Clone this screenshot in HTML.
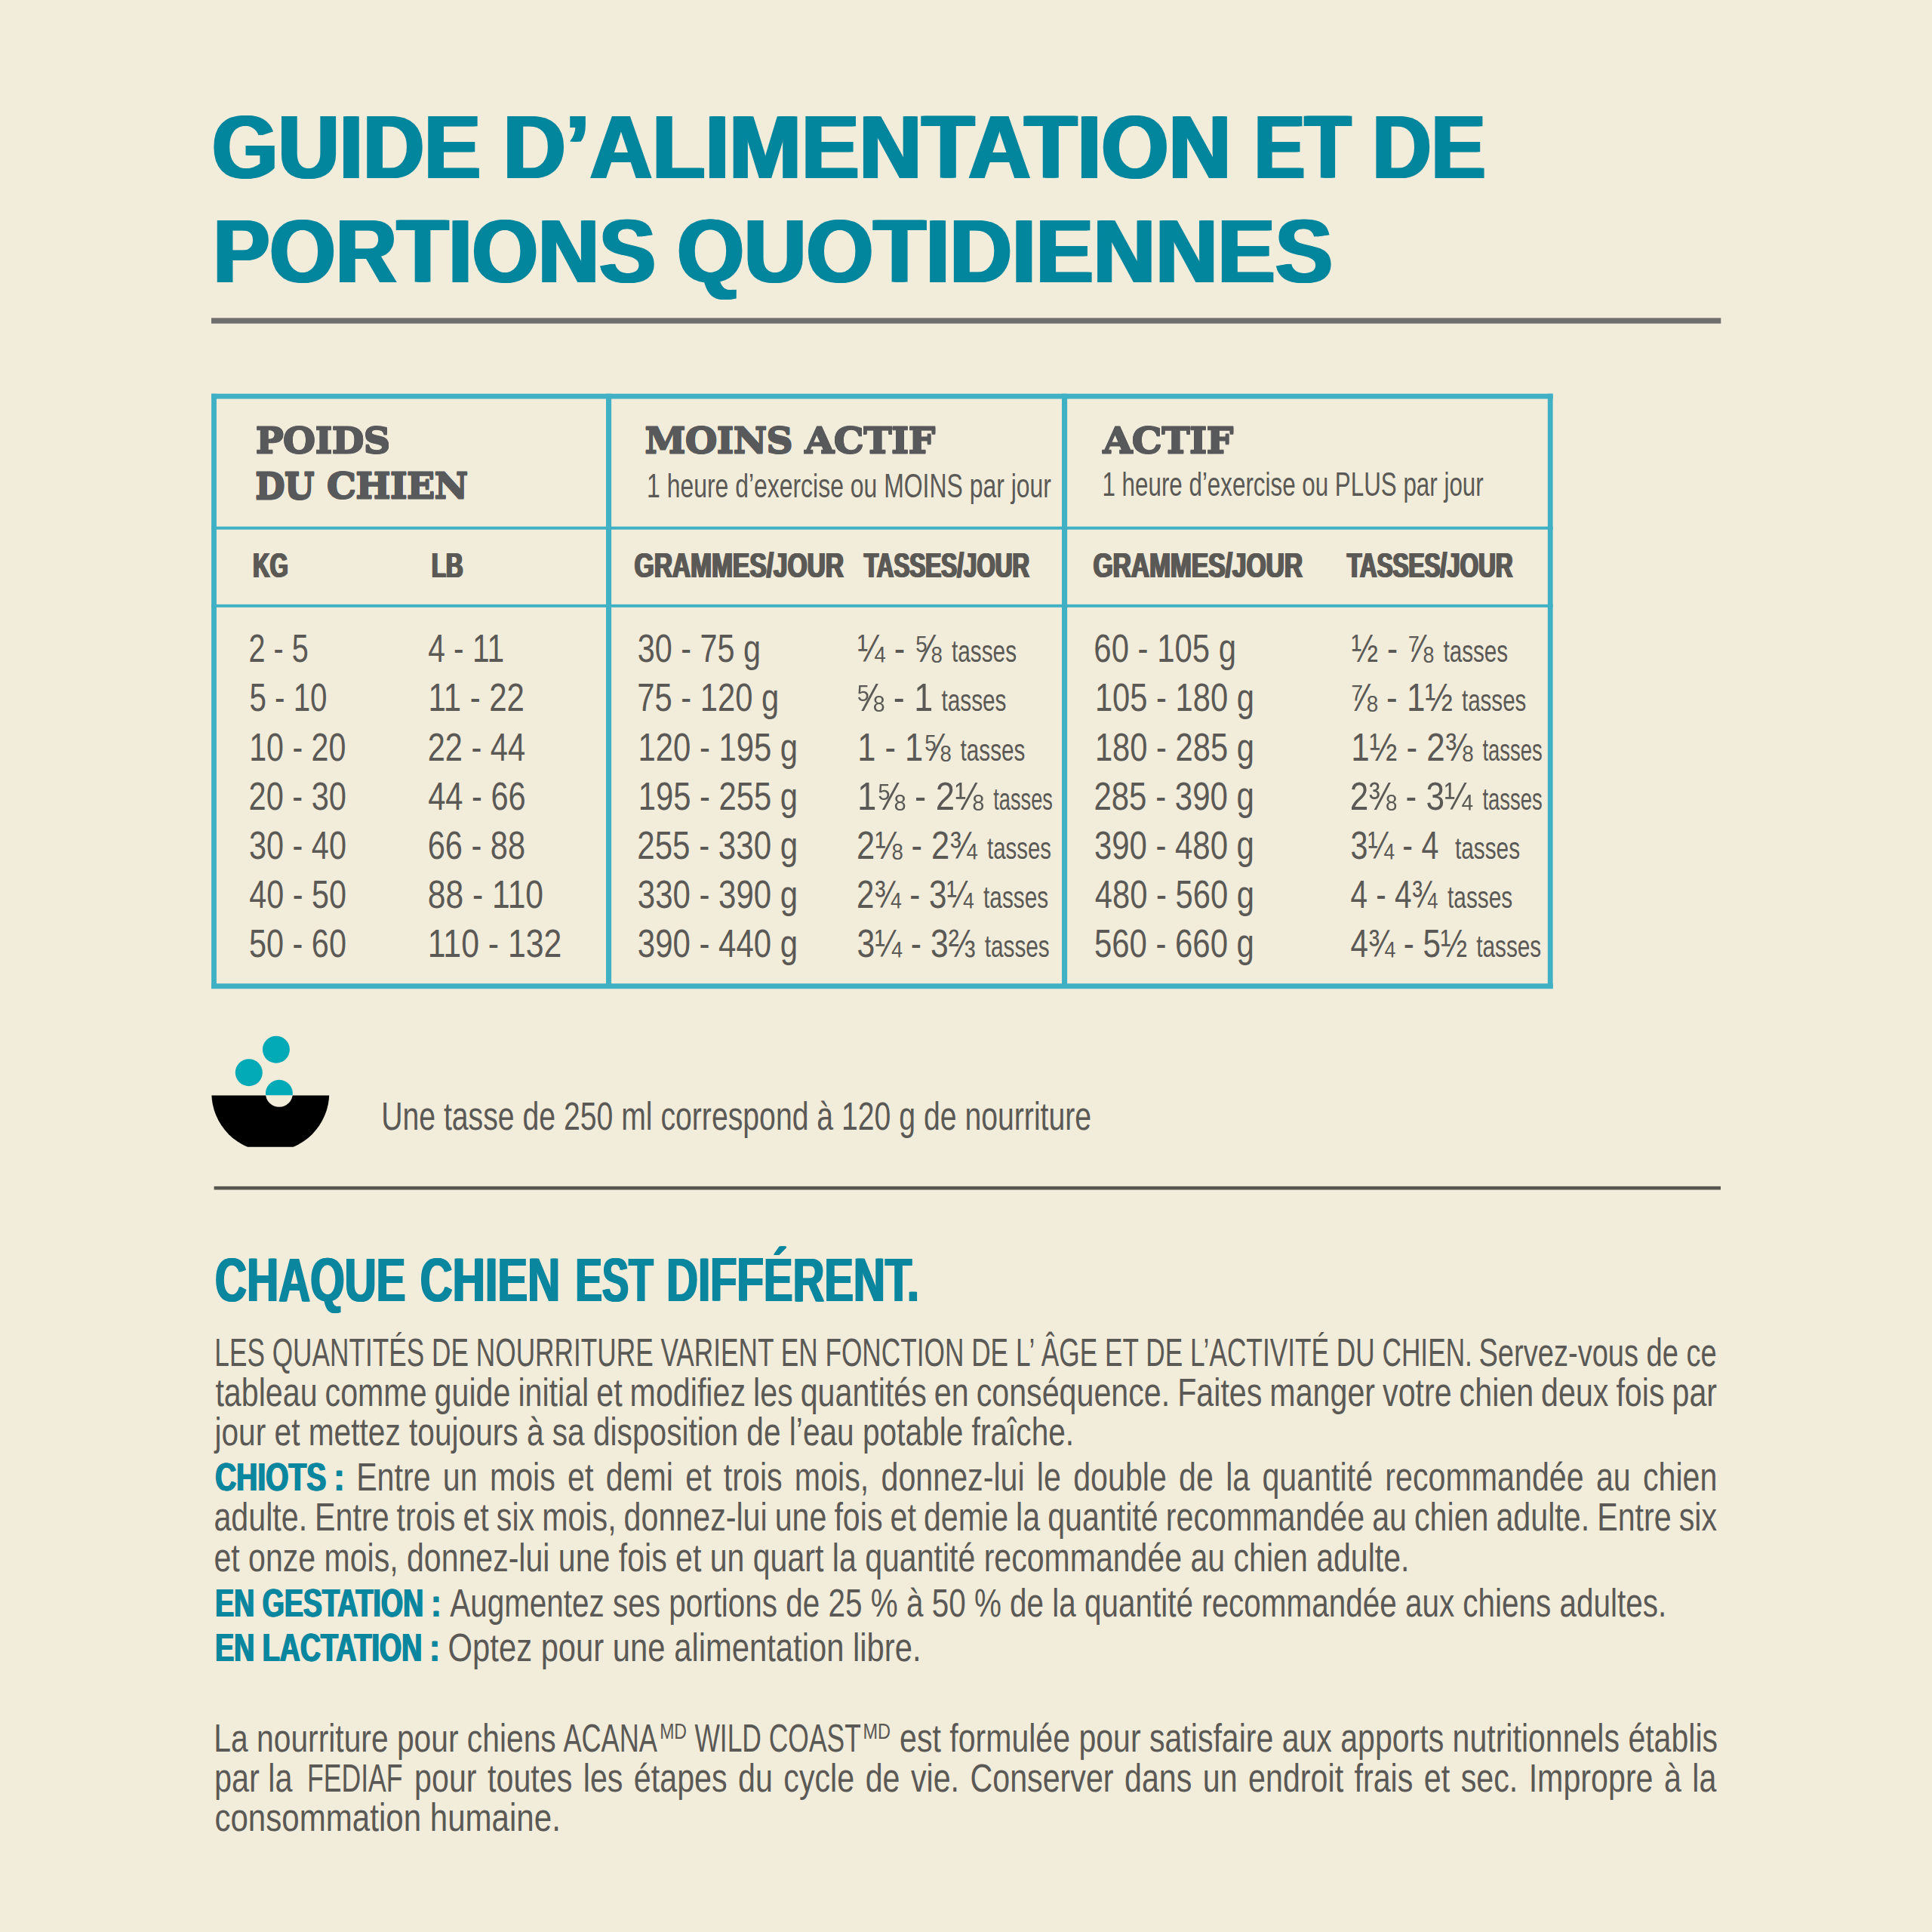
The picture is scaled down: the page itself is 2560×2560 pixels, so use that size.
<!DOCTYPE html>
<html lang="fr">
<head>
<meta charset="utf-8">
<title>Guide d’alimentation et de portions quotidiennes</title>
<style>
html,body{margin:0;padding:0;background:#f2ecdb}
svg{display:block}
text{white-space:pre}
</style>
</head>
<body>
<svg width="2560" height="2560" viewBox="0 0 2560 2560">
<rect width="2560" height="2560" fill="#f2ecdb"/>
<rect x="280" y="421.3" width="2000.3" height="7.4" fill="#706f70"/>
<rect x="283.6" y="1571.9" width="1996.4" height="4.6" fill="#585650"/>
<g fill="#40b0c4">
<rect x="280.1" y="521.7" width="1777.5" height="6.8"/><rect x="280.1" y="1303.2" width="1777.5" height="7.0"/><rect x="280.1" y="521.7" width="6.8" height="788.3"/><rect x="2050.7999999999997" y="521.7" width="6.8" height="788.3"/><rect x="803" y="521.7" width="7.1" height="788.3"/><rect x="1407" y="521.7" width="7.1" height="788.3"/><rect x="280.1" y="697.7" width="1777.5" height="4"/><rect x="280.1" y="800.8" width="1777.5" height="4"/>
</g>
<g>
<clipPath id="bowlclip"><rect x="270" y="1451.4" width="180" height="68.3" rx="2.5"/></clipPath>
<circle cx="358.3" cy="1448" r="78" fill="#000" clip-path="url(#bowlclip)"/>
<circle cx="369.9" cy="1448.8" r="18" fill="#f2ecdb"/>
<path d="M352.06 1451.2 A18 18 0 1 1 387.74 1451.2 Z" fill="#02a9b6"/>
<circle cx="365.9" cy="1390.7" r="18" fill="#02a9b6"/>
<circle cx="329.8" cy="1421.2" r="18" fill="#02a9b6"/>
</g>
<text transform="translate(281.08,235.50) scale(0.9430,1)" font-family="Liberation Sans, sans-serif" font-weight="bold" font-size="119.2" fill="#02869e" style="text-shadow:2.33px 0 0 #02869e,-2.33px 0 0 #02869e">GUIDE</text>
<text transform="translate(666.69,235.50) scale(0.9628,1)" font-family="Liberation Sans, sans-serif" font-weight="bold" font-size="119.2" fill="#02869e" style="text-shadow:2.29px 0 0 #02869e,-2.29px 0 0 #02869e">D’ALIMENTATION</text>
<text transform="translate(1662.10,235.50) scale(0.8403,1)" font-family="Liberation Sans, sans-serif" font-weight="bold" font-size="119.2" fill="#02869e" style="text-shadow:2.62px 0 0 #02869e,-2.62px 0 0 #02869e">ET</text>
<text transform="translate(1818.47,235.50) scale(0.9063,1)" font-family="Liberation Sans, sans-serif" font-weight="bold" font-size="119.2" fill="#02869e" style="text-shadow:2.43px 0 0 #02869e,-2.43px 0 0 #02869e">DE</text>
<text transform="translate(282.41,373.90) scale(0.9422,1)" font-family="Liberation Sans, sans-serif" font-weight="bold" font-size="119.2" fill="#02869e" style="text-shadow:2.34px 0 0 #02869e,-2.34px 0 0 #02869e">PORTIONS</text>
<text transform="translate(897.24,373.90) scale(0.9573,1)" font-family="Liberation Sans, sans-serif" font-weight="bold" font-size="119.2" fill="#02869e" style="text-shadow:2.30px 0 0 #02869e,-2.30px 0 0 #02869e">QUOTIDIENNES</text>
<text transform="translate(338.42,599.70) scale(1.0773,1)" font-family="DejaVu Serif, Liberation Serif, serif" font-weight="bold" font-size="46.3" fill="#58595b" letter-spacing="-1.0" stroke="#58595b" stroke-width="1.0" stroke-linejoin="miter" style="text-shadow:0 1.20px 0 #58595b,0 -1.20px 0 #58595b">POIDS</text>
<text transform="translate(338.11,660.30) scale(0.9885,1)" font-family="DejaVu Serif, Liberation Serif, serif" font-weight="bold" font-size="46.3" fill="#58595b" letter-spacing="-1.0" stroke="#58595b" stroke-width="1.0" stroke-linejoin="miter" style="text-shadow:0 1.20px 0 #58595b,0 -1.20px 0 #58595b">DU</text>
<text transform="translate(432.83,660.30) scale(1.0672,1)" font-family="DejaVu Serif, Liberation Serif, serif" font-weight="bold" font-size="46.3" fill="#58595b" letter-spacing="-1.0" stroke="#58595b" stroke-width="1.0" stroke-linejoin="miter" style="text-shadow:0 1.20px 0 #58595b,0 -1.20px 0 #58595b">CHIEN</text>
<text transform="translate(854.34,599.70) scale(1.0621,1)" font-family="DejaVu Serif, Liberation Serif, serif" font-weight="bold" font-size="46.3" fill="#58595b" letter-spacing="-1.0" stroke="#58595b" stroke-width="1.0" stroke-linejoin="miter" style="text-shadow:0 1.20px 0 #58595b,0 -1.20px 0 #58595b">MOINS</text>
<text transform="translate(1066.10,599.70) scale(1.0994,1)" font-family="DejaVu Serif, Liberation Serif, serif" font-weight="bold" font-size="46.3" fill="#58595b" letter-spacing="-1.0" stroke="#58595b" stroke-width="1.0" stroke-linejoin="miter" style="text-shadow:0 1.20px 0 #58595b,0 -1.20px 0 #58595b">ACTIF</text>
<text transform="translate(1461.20,600.00) scale(1.0987,1)" font-family="DejaVu Serif, Liberation Serif, serif" font-weight="bold" font-size="46.3" fill="#58595b" letter-spacing="-1.0" stroke="#58595b" stroke-width="1.0" stroke-linejoin="miter" style="text-shadow:0 1.20px 0 #58595b,0 -1.20px 0 #58595b">ACTIF</text>
<text transform="translate(857.02,659.20) scale(0.7256,1)" font-family="Liberation Sans, sans-serif" font-size="44.0" fill="#5a5955">1 heure d’exercise ou MOINS par jour</text>
<text transform="translate(1460.46,656.50) scale(0.7126,1)" font-family="Liberation Sans, sans-serif" font-size="44.0" fill="#5a5955">1 heure d’exercise ou PLUS par jour</text>
<text transform="translate(335.14,765.20) scale(0.6815,1)" font-family="Liberation Sans, sans-serif" font-weight="bold" font-size="45.6" fill="#5a5955" style="text-shadow:1.47px 0 0 #5a5955,-1.47px 0 0 #5a5955">KG</text>
<text transform="translate(571.94,765.20) scale(0.6854,1)" font-family="Liberation Sans, sans-serif" font-weight="bold" font-size="45.6" fill="#5a5955" style="text-shadow:1.46px 0 0 #5a5955,-1.46px 0 0 #5a5955">LB</text>
<text transform="translate(840.72,765.20) scale(0.7347,1)" font-family="Liberation Sans, sans-serif" font-weight="bold" font-size="45.6" fill="#5a5955" style="text-shadow:1.36px 0 0 #5a5955,-1.36px 0 0 #5a5955">GRAMMES/JOUR</text>
<text transform="translate(1144.79,765.20) scale(0.6891,1)" font-family="Liberation Sans, sans-serif" font-weight="bold" font-size="45.6" fill="#5a5955" style="text-shadow:1.45px 0 0 #5a5955,-1.45px 0 0 #5a5955">TASSES/JOUR</text>
<text transform="translate(1448.52,765.20) scale(0.7355,1)" font-family="Liberation Sans, sans-serif" font-weight="bold" font-size="45.6" fill="#5a5955" style="text-shadow:1.36px 0 0 #5a5955,-1.36px 0 0 #5a5955">GRAMMES/JOUR</text>
<text transform="translate(1784.99,765.20) scale(0.6897,1)" font-family="Liberation Sans, sans-serif" font-weight="bold" font-size="45.6" fill="#5a5955" style="text-shadow:1.45px 0 0 #5a5955,-1.45px 0 0 #5a5955">TASSES/JOUR</text>
<text transform="translate(329.61,877.30) scale(0.7570,1)" font-family="Liberation Sans, sans-serif" font-size="52.3" fill="#5a5955">2 - 5</text>
<text transform="translate(567.22,877.30) scale(0.7776,1)" font-family="Liberation Sans, sans-serif" font-size="52.3" fill="#5a5955">4 - 11</text>
<text transform="translate(844.82,877.30) scale(0.7910,1)" font-family="Liberation Sans, sans-serif" font-size="52.3" fill="#5a5955">30 - 75 g</text>
<text transform="translate(1449.35,877.30) scale(0.8009,1)" font-family="Liberation Sans, sans-serif" font-size="52.3" fill="#5a5955">60 - 105 g</text>
<text transform="translate(1136.37,877.30) scale(0.8323,1)" font-family="Liberation Sans, sans-serif" font-size="52.3" fill="#5a5955">¼ - ⅝</text>
<text transform="translate(1260.94,877.30) scale(0.7451,1)" font-family="Liberation Sans, sans-serif" font-size="40.0" fill="#5a5955">tasses</text>
<text transform="translate(1790.79,877.30) scale(0.8105,1)" font-family="Liberation Sans, sans-serif" font-size="52.3" fill="#5a5955">½ - ⅞</text>
<text transform="translate(1912.44,877.30) scale(0.7415,1)" font-family="Liberation Sans, sans-serif" font-size="40.0" fill="#5a5955">tasses</text>
<text transform="translate(330.46,942.47) scale(0.7708,1)" font-family="Liberation Sans, sans-serif" font-size="52.3" fill="#5a5955">5 - 10</text>
<text transform="translate(567.40,942.47) scale(0.8028,1)" font-family="Liberation Sans, sans-serif" font-size="52.3" fill="#5a5955">11 - 22</text>
<text transform="translate(844.25,942.47) scale(0.7983,1)" font-family="Liberation Sans, sans-serif" font-size="52.3" fill="#5a5955">75 - 120 g</text>
<text transform="translate(1450.92,942.47) scale(0.7974,1)" font-family="Liberation Sans, sans-serif" font-size="52.3" fill="#5a5955">105 - 180 g</text>
<text transform="translate(1133.80,942.47) scale(0.8598,1)" font-family="Liberation Sans, sans-serif" font-size="52.3" fill="#5a5955">⅝ - 1</text>
<text transform="translate(1247.44,942.47) scale(0.7442,1)" font-family="Liberation Sans, sans-serif" font-size="40.0" fill="#5a5955">tasses</text>
<text transform="translate(1788.24,942.47) scale(0.8403,1)" font-family="Liberation Sans, sans-serif" font-size="52.3" fill="#5a5955">⅞ - 1½</text>
<text transform="translate(1936.95,942.47) scale(0.7389,1)" font-family="Liberation Sans, sans-serif" font-size="40.0" fill="#5a5955">tasses</text>
<text transform="translate(330.16,1007.64) scale(0.7878,1)" font-family="Liberation Sans, sans-serif" font-size="52.3" fill="#5a5955">10 - 20</text>
<text transform="translate(566.71,1007.64) scale(0.7941,1)" font-family="Liberation Sans, sans-serif" font-size="52.3" fill="#5a5955">22 - 44</text>
<text transform="translate(845.51,1007.64) scale(0.7998,1)" font-family="Liberation Sans, sans-serif" font-size="52.3" fill="#5a5955">120 - 195 g</text>
<text transform="translate(1450.92,1007.64) scale(0.7974,1)" font-family="Liberation Sans, sans-serif" font-size="52.3" fill="#5a5955">180 - 285 g</text>
<text transform="translate(1136.19,1007.64) scale(0.8309,1)" font-family="Liberation Sans, sans-serif" font-size="52.3" fill="#5a5955">1 - 1⅝</text>
<text transform="translate(1272.54,1007.64) scale(0.7424,1)" font-family="Liberation Sans, sans-serif" font-size="40.0" fill="#5a5955">tasses</text>
<text transform="translate(1790.26,1007.64) scale(0.8393,1)" font-family="Liberation Sans, sans-serif" font-size="52.3" fill="#5a5955">1½ - 2⅜</text>
<text transform="translate(1964.48,1007.64) scale(0.6860,1)" font-family="Liberation Sans, sans-serif" font-size="40.0" fill="#5a5955">tasses</text>
<text transform="translate(329.51,1072.81) scale(0.7950,1)" font-family="Liberation Sans, sans-serif" font-size="52.3" fill="#5a5955">20 - 30</text>
<text transform="translate(567.20,1072.81) scale(0.7950,1)" font-family="Liberation Sans, sans-serif" font-size="52.3" fill="#5a5955">44 - 66</text>
<text transform="translate(845.82,1072.81) scale(0.7986,1)" font-family="Liberation Sans, sans-serif" font-size="52.3" fill="#5a5955">195 - 255 g</text>
<text transform="translate(1449.39,1072.81) scale(0.8033,1)" font-family="Liberation Sans, sans-serif" font-size="52.3" fill="#5a5955">285 - 390 g</text>
<text transform="translate(1136.03,1072.81) scale(0.8707,1)" font-family="Liberation Sans, sans-serif" font-size="52.3" fill="#5a5955">1⅝ - 2⅛</text>
<text transform="translate(1316.28,1072.81) scale(0.6807,1)" font-family="Liberation Sans, sans-serif" font-size="40.0" fill="#5a5955">tasses</text>
<text transform="translate(1788.78,1072.81) scale(0.8452,1)" font-family="Liberation Sans, sans-serif" font-size="52.3" fill="#5a5955">2⅜ - 3¼</text>
<text transform="translate(1964.48,1072.81) scale(0.6860,1)" font-family="Liberation Sans, sans-serif" font-size="40.0" fill="#5a5955">tasses</text>
<text transform="translate(330.02,1137.98) scale(0.7918,1)" font-family="Liberation Sans, sans-serif" font-size="52.3" fill="#5a5955">30 - 40</text>
<text transform="translate(566.67,1137.98) scale(0.7946,1)" font-family="Liberation Sans, sans-serif" font-size="52.3" fill="#5a5955">66 - 88</text>
<text transform="translate(844.29,1137.98) scale(0.8045,1)" font-family="Liberation Sans, sans-serif" font-size="52.3" fill="#5a5955">255 - 330 g</text>
<text transform="translate(1449.90,1137.98) scale(0.8014,1)" font-family="Liberation Sans, sans-serif" font-size="52.3" fill="#5a5955">390 - 480 g</text>
<text transform="translate(1135.02,1137.98) scale(0.8315,1)" font-family="Liberation Sans, sans-serif" font-size="52.3" fill="#5a5955">2⅛ - 2¾</text>
<text transform="translate(1308.05,1137.98) scale(0.7354,1)" font-family="Liberation Sans, sans-serif" font-size="40.0" fill="#5a5955">tasses</text>
<text transform="translate(1789.42,1137.98) scale(0.7897,1)" font-family="Liberation Sans, sans-serif" font-size="52.3" fill="#5a5955">3¼ - 4</text>
<text transform="translate(1928.04,1137.98) scale(0.7442,1)" font-family="Liberation Sans, sans-serif" font-size="40.0" fill="#5a5955">tasses</text>
<text transform="translate(330.21,1203.15) scale(0.7906,1)" font-family="Liberation Sans, sans-serif" font-size="52.3" fill="#5a5955">40 - 50</text>
<text transform="translate(566.87,1203.15) scale(0.8146,1)" font-family="Liberation Sans, sans-serif" font-size="52.3" fill="#5a5955">88 - 110</text>
<text transform="translate(844.79,1203.15) scale(0.8025,1)" font-family="Liberation Sans, sans-serif" font-size="52.3" fill="#5a5955">330 - 390 g</text>
<text transform="translate(1450.70,1203.15) scale(0.7983,1)" font-family="Liberation Sans, sans-serif" font-size="52.3" fill="#5a5955">480 - 560 g</text>
<text transform="translate(1135.08,1203.15) scale(0.8051,1)" font-family="Liberation Sans, sans-serif" font-size="52.3" fill="#5a5955">2¾ - 3¼</text>
<text transform="translate(1303.04,1203.15) scale(0.7451,1)" font-family="Liberation Sans, sans-serif" font-size="40.0" fill="#5a5955">tasses</text>
<text transform="translate(1789.52,1203.15) scale(0.7750,1)" font-family="Liberation Sans, sans-serif" font-size="52.3" fill="#5a5955">4 - 4¾</text>
<text transform="translate(1918.04,1203.15) scale(0.7451,1)" font-family="Liberation Sans, sans-serif" font-size="40.0" fill="#5a5955">tasses</text>
<text transform="translate(330.02,1268.32) scale(0.7918,1)" font-family="Liberation Sans, sans-serif" font-size="52.3" fill="#5a5955">50 - 60</text>
<text transform="translate(566.74,1268.32) scale(0.8177,1)" font-family="Liberation Sans, sans-serif" font-size="52.3" fill="#5a5955">110 - 132</text>
<text transform="translate(844.79,1268.32) scale(0.8025,1)" font-family="Liberation Sans, sans-serif" font-size="52.3" fill="#5a5955">390 - 440 g</text>
<text transform="translate(1449.90,1268.32) scale(0.8014,1)" font-family="Liberation Sans, sans-serif" font-size="52.3" fill="#5a5955">560 - 660 g</text>
<text transform="translate(1135.57,1268.32) scale(0.8169,1)" font-family="Liberation Sans, sans-serif" font-size="52.3" fill="#5a5955">3¼ - 3⅔</text>
<text transform="translate(1304.64,1268.32) scale(0.7451,1)" font-family="Liberation Sans, sans-serif" font-size="40.0" fill="#5a5955">tasses</text>
<text transform="translate(1789.49,1268.32) scale(0.8066,1)" font-family="Liberation Sans, sans-serif" font-size="52.3" fill="#5a5955">4¾ - 5½</text>
<text transform="translate(1956.14,1268.32) scale(0.7451,1)" font-family="Liberation Sans, sans-serif" font-size="40.0" fill="#5a5955">tasses</text>
<text transform="translate(505.18,1496.80) scale(0.7610,1)" font-family="Liberation Sans, sans-serif" font-size="51.5" fill="#5a5955">Une tasse de 250 ml correspond à 120 g de nourriture</text>
<text transform="translate(284.96,1724.20) scale(0.7129,1)" font-family="Liberation Sans, sans-serif" font-weight="bold" font-size="81.8" fill="#0a869f" style="text-shadow:1.40px 0 0 #0a869f,-1.40px 0 0 #0a869f">CHAQUE</text>
<text transform="translate(556.64,1724.20) scale(0.7297,1)" font-family="Liberation Sans, sans-serif" font-weight="bold" font-size="81.8" fill="#0a869f" style="text-shadow:1.37px 0 0 #0a869f,-1.37px 0 0 #0a869f">CHIEN</text>
<text transform="translate(762.53,1724.20) scale(0.6479,1)" font-family="Liberation Sans, sans-serif" font-weight="bold" font-size="81.8" fill="#0a869f" style="text-shadow:1.54px 0 0 #0a869f,-1.54px 0 0 #0a869f">EST</text>
<text transform="translate(883.19,1724.20) scale(0.7083,1)" font-family="Liberation Sans, sans-serif" font-weight="bold" font-size="81.8" fill="#0a869f" style="text-shadow:1.41px 0 0 #0a869f,-1.41px 0 0 #0a869f">DIFFÉRENT.</text>
<text transform="translate(284.29,1810.30) scale(0.6777,1)" font-family="Liberation Sans, sans-serif" font-size="52.0" fill="#5a5955">LES QUANTITÉS DE NOURRITURE VARIENT EN FONCTION DE L’ ÂGE ET DE L’ACTIVITÉ DU CHIEN.</text>
<text transform="translate(1959.48,1810.30) scale(0.7322,1)" font-family="Liberation Sans, sans-serif" font-size="52.0" fill="#5a5955">Servez-vous de ce</text>
<text transform="translate(285.38,1863.30) scale(0.7925,1)" font-family="Liberation Sans, sans-serif" font-size="52.0" fill="#5a5955" word-spacing="-1.85">tableau comme guide initial et modifiez les quantités en conséquence. Faites manger votre chien deux fois par</text>
<text transform="translate(284.49,1915.00) scale(0.7819,1)" font-family="Liberation Sans, sans-serif" font-size="52.0" fill="#5a5955">jour et mettez toujours à sa disposition de l’eau potable fraîche.</text>
<text transform="translate(285.05,1975.20) scale(0.7492,1)" font-family="Liberation Sans, sans-serif" font-weight="bold" font-size="52.0" fill="#0a869f" style="text-shadow:1.07px 0 0 #0a869f,-1.07px 0 0 #0a869f">CHIOTS :</text>
<text transform="translate(472.13,1975.20) scale(0.7925,1)" font-family="Liberation Sans, sans-serif" font-size="52.0" fill="#5a5955" word-spacing="6.03">Entre un mois et demi et trois mois, donnez-lui le double de la quantité recommandée au chien</text>
<text transform="translate(283.42,2027.80) scale(0.7925,1)" font-family="Liberation Sans, sans-serif" font-size="52.0" fill="#5a5955" word-spacing="-1.83">adulte. Entre trois et six mois, donnez-lui une fois et demie la quantité recommandée au chien adulte. Entre six</text>
<text transform="translate(283.42,2082.00) scale(0.7897,1)" font-family="Liberation Sans, sans-serif" font-size="52.0" fill="#5a5955">et onze mois, donnez-lui une fois et un quart la quantité recommandée au chien adulte.</text>
<text transform="translate(285.06,2141.50) scale(0.7224,1)" font-family="Liberation Sans, sans-serif" font-weight="bold" font-size="52.0" fill="#0a869f" style="text-shadow:1.11px 0 0 #0a869f,-1.11px 0 0 #0a869f">EN GESTATION :</text>
<text transform="translate(596.20,2141.50) scale(0.7778,1)" font-family="Liberation Sans, sans-serif" font-size="52.0" fill="#5a5955">Augmentez ses portions de 25 % à 50 % de la quantité recommandée aux chiens adultes.</text>
<text transform="translate(285.05,2201.10) scale(0.7232,1)" font-family="Liberation Sans, sans-serif" font-weight="bold" font-size="52.0" fill="#0a869f" style="text-shadow:1.11px 0 0 #0a869f,-1.11px 0 0 #0a869f">EN LACTATION :</text>
<text transform="translate(593.59,2201.10) scale(0.8035,1)" font-family="Liberation Sans, sans-serif" font-size="52.0" fill="#5a5955">Optez pour une alimentation libre.</text>
<text transform="translate(283.36,2320.60) scale(0.7845,1)" font-family="Liberation Sans, sans-serif" font-size="52.0" fill="#5a5955">La nourriture pour chiens</text>
<text transform="translate(746.40,2320.60) scale(0.6955,1)" font-family="Liberation Sans, sans-serif" font-size="52.0" fill="#5a5955">ACANA</text>
<text transform="translate(874.14,2304.10) scale(0.7815,1)" font-family="Liberation Sans, sans-serif" font-size="29.5" fill="#5a5955">MD</text>
<text transform="translate(920.40,2320.60) scale(0.6813,1)" font-family="Liberation Sans, sans-serif" font-size="52.0" fill="#5a5955">WILD COAST</text>
<text transform="translate(1143.40,2304.10) scale(0.7980,1)" font-family="Liberation Sans, sans-serif" font-size="29.5" fill="#5a5955">MD</text>
<text transform="translate(1192.12,2320.60) scale(0.7896,1)" font-family="Liberation Sans, sans-serif" font-size="52.0" fill="#5a5955">est formulée pour satisfaire aux apports nutritionnels établis</text>
<text transform="translate(283.91,2373.60) scale(0.7958,1)" font-family="Liberation Sans, sans-serif" font-size="52.0" fill="#5a5955">par la</text>
<text transform="translate(406.96,2373.60) scale(0.6849,1)" font-family="Liberation Sans, sans-serif" font-size="52.0" fill="#5a5955">FEDIAF</text>
<text transform="translate(549.12,2373.60) scale(0.7925,1)" font-family="Liberation Sans, sans-serif" font-size="52.0" fill="#5a5955" word-spacing="3.80">pour toutes les étapes du cycle de vie. Conserver dans un endroit frais et sec. Impropre à la</text>
<text transform="translate(284.38,2426.30) scale(0.8095,1)" font-family="Liberation Sans, sans-serif" font-size="52.0" fill="#5a5955">consommation humaine.</text>
</svg>
</body>
</html>
